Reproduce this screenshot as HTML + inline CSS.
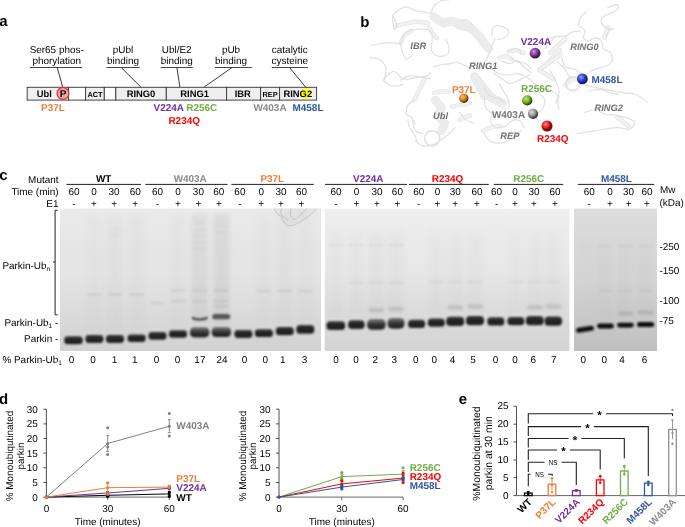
<!DOCTYPE html>
<html><head><meta charset="utf-8"><style>
html,body{margin:0;padding:0;background:#fff;}
svg{display:block;font-family:"Liberation Sans",sans-serif;text-rendering:geometricPrecision;-webkit-font-smoothing:antialiased;will-change:transform;}
</style></head><body>
<svg width="685" height="527" viewBox="0 0 685 527">
<rect width="685" height="527" fill="#fff"/>
<text x="-0.7" y="26.2" font-size="15" font-weight="bold" fill="#000" text-anchor="start">a</text>
<text x="56.7" y="52.7" font-size="9.95" fill="#000" text-anchor="middle">Ser65 phos-</text>
<text x="56.7" y="63.8" font-size="9.95" fill="#000" text-anchor="middle">phorylation</text>
<line x1="30.0" y1="67.5" x2="82.0" y2="67.5" stroke="#333" stroke-width="0.9"/>
<line x1="57.2" y1="67.5" x2="62.7" y2="87.0" stroke="#222" stroke-width="0.9"/>
<text x="123.0" y="52.7" font-size="9.95" fill="#000" text-anchor="middle">pUbl</text>
<text x="123.0" y="63.8" font-size="9.95" fill="#000" text-anchor="middle">binding</text>
<line x1="106.4" y1="67.5" x2="139.6" y2="67.5" stroke="#333" stroke-width="0.9"/>
<line x1="121.2" y1="67.5" x2="140.8" y2="87.0" stroke="#222" stroke-width="0.9"/>
<text x="176.7" y="52.7" font-size="9.95" fill="#000" text-anchor="middle">Ubl/E2</text>
<text x="176.7" y="63.8" font-size="9.95" fill="#000" text-anchor="middle">binding</text>
<line x1="160.7" y1="67.5" x2="192.8" y2="67.5" stroke="#333" stroke-width="0.9"/>
<line x1="176.9" y1="67.5" x2="179.9" y2="87.0" stroke="#222" stroke-width="0.9"/>
<text x="231.0" y="52.7" font-size="9.95" fill="#000" text-anchor="middle">pUb</text>
<text x="231.0" y="63.8" font-size="9.95" fill="#000" text-anchor="middle">binding</text>
<line x1="215.0" y1="67.5" x2="251.8" y2="67.5" stroke="#333" stroke-width="0.9"/>
<line x1="232.0" y1="67.5" x2="204.2" y2="87.0" stroke="#222" stroke-width="0.9"/>
<text x="289.8" y="52.7" font-size="9.95" fill="#000" text-anchor="middle">catalytic</text>
<text x="289.8" y="63.8" font-size="9.95" fill="#000" text-anchor="middle">cysteine</text>
<line x1="271.7" y1="67.5" x2="308.0" y2="67.5" stroke="#333" stroke-width="0.9"/>
<line x1="289.5" y1="67.5" x2="306.4" y2="88.0" stroke="#222" stroke-width="0.9"/>
<rect x="27.2" y="87.3" width="41.3" height="12.8" fill="#efefef" stroke="#3c3c3c" stroke-width="0.95"/>
<rect x="68.5" y="87.3" width="17.1" height="12.8" fill="#fff" stroke="#3c3c3c" stroke-width="0.95"/>
<rect x="85.6" y="87.3" width="18.7" height="12.8" fill="#efefef" stroke="#3c3c3c" stroke-width="0.95"/>
<rect x="104.3" y="87.3" width="11.5" height="12.8" fill="#fff" stroke="#3c3c3c" stroke-width="0.95"/>
<rect x="115.8" y="87.3" width="50.5" height="12.8" fill="#efefef" stroke="#3c3c3c" stroke-width="0.95"/>
<rect x="166.3" y="87.3" width="60.3" height="12.8" fill="#efefef" stroke="#3c3c3c" stroke-width="0.95"/>
<rect x="226.6" y="87.3" width="34.0" height="12.8" fill="#efefef" stroke="#3c3c3c" stroke-width="0.95"/>
<rect x="260.6" y="87.3" width="19.0" height="12.8" fill="#efefef" stroke="#3c3c3c" stroke-width="0.95"/>
<rect x="279.6" y="87.3" width="37.0" height="12.8" fill="#efefef" stroke="#3c3c3c" stroke-width="0.95"/>
<circle cx="63.0" cy="93.4" r="5.9" fill="#F6A5A5" stroke="#E02828" stroke-width="1.2"/>
<circle cx="306.1" cy="93.4" r="5.4" fill="#FFFF00"/>
<text x="44.2" y="97.2" font-size="9.4" font-weight="bold" fill="#000" text-anchor="middle">Ubl</text>
<text x="63.0" y="97.2" font-size="10" font-weight="bold" fill="#000" text-anchor="middle">P</text>
<text x="95.0" y="96.8" font-size="7.4" font-weight="bold" fill="#000" text-anchor="middle">ACT</text>
<text x="141.0" y="97.2" font-size="9.4" font-weight="bold" fill="#000" text-anchor="middle">RING0</text>
<text x="194.6" y="97.2" font-size="9.4" font-weight="bold" fill="#000" text-anchor="middle">RING1</text>
<text x="242.8" y="97.2" font-size="9.4" font-weight="bold" fill="#000" text-anchor="middle">IBR</text>
<text x="270.0" y="96.8" font-size="7.4" font-weight="bold" fill="#000" text-anchor="middle">REP</text>
<text x="297.8" y="97.2" font-size="9.4" font-weight="bold" fill="#000" text-anchor="middle">RING2</text>
<text x="53.0" y="110.8" font-size="9.95" font-weight="bold" fill="#ED7D31" text-anchor="middle">P37L</text>
<text x="168.8" y="110.8" font-size="9.95" font-weight="bold" fill="#7030A0" text-anchor="middle">V224A</text>
<text x="201.7" y="110.8" font-size="9.95" font-weight="bold" fill="#70AD47" text-anchor="middle">R256C</text>
<text x="184.2" y="123.6" font-size="9.95" font-weight="bold" fill="#FF0000" text-anchor="middle">R234Q</text>
<text x="270.0" y="110.8" font-size="9.95" font-weight="bold" fill="#8A8A8A" text-anchor="middle">W403A</text>
<text x="308.0" y="110.8" font-size="9.95" font-weight="bold" fill="#2F55A0" text-anchor="middle">M458L</text>
<text x="360.2" y="27.2" font-size="15" font-weight="bold" fill="#000" text-anchor="start">b</text>
<g fill="none" stroke-linecap="round" stroke-linejoin="round">
<path d="M396.6 25.8 C399.5 25.2 408.8 22.5 414.0 22.0 C419.2 21.5 425.4 22.6 427.7 22.8" stroke="#e4e4e4" stroke-width="4.4"/>
<path d="M396.6 25.8 C399.5 25.2 408.8 22.5 414.0 22.0 C419.2 21.5 425.4 22.6 427.7 22.8" stroke="#f1f1f1" stroke-width="3"/>
<path d="M401.1 42.5 C401.7 41.2 403.3 36.8 404.9 34.9 C406.5 33.0 410.0 31.7 411.0 31.1" stroke="#e4e4e4" stroke-width="4.4"/>
<path d="M401.1 42.5 C401.7 41.2 403.3 36.8 404.9 34.9 C406.5 33.0 410.0 31.7 411.0 31.1" stroke="#f1f1f1" stroke-width="3"/>
<path d="M429.2 27.3 C429.9 28.6 432.5 33.1 433.7 34.9 C435.0 36.7 436.3 37.4 436.8 37.9" stroke="#e4e4e4" stroke-width="4.4"/>
<path d="M429.2 27.3 C429.9 28.6 432.5 33.1 433.7 34.9 C435.0 36.7 436.3 37.4 436.8 37.9" stroke="#f1f1f1" stroke-width="3"/>
<path d="M540.4 69.8 C542.2 68.0 547.8 62.5 551.0 59.2 C554.3 55.9 558.5 51.6 560.0 50.1" stroke="#e4e4e4" stroke-width="4.4"/>
<path d="M540.4 69.8 C542.2 68.0 547.8 62.5 551.0 59.2 C554.3 55.9 558.5 51.6 560.0 50.1" stroke="#f1f1f1" stroke-width="3"/>
<path d="M508.6 51.6 C509.8 51.3 513.6 49.8 516.1 50.1 C518.7 50.3 522.5 52.6 523.7 53.1" stroke="#e4e4e4" stroke-width="4.4"/>
<path d="M508.6 51.6 C509.8 51.3 513.6 49.8 516.1 50.1 C518.7 50.3 522.5 52.6 523.7 53.1" stroke="#f1f1f1" stroke-width="3"/>
<path d="M499.5 57.7 C500.5 57.4 503.5 55.9 505.5 56.1 C507.5 56.4 510.6 58.7 511.6 59.2" stroke="#e4e4e4" stroke-width="4.4"/>
<path d="M499.5 57.7 C500.5 57.4 503.5 55.9 505.5 56.1 C507.5 56.4 510.6 58.7 511.6 59.2" stroke="#f1f1f1" stroke-width="3"/>
<path d="M550.0 53.1 C551.3 51.8 555.1 47.8 557.6 45.5 C560.1 43.2 563.9 40.5 565.2 39.5" stroke="#e4e4e4" stroke-width="4.4"/>
<path d="M550.0 53.1 C551.3 51.8 555.1 47.8 557.6 45.5 C560.1 43.2 563.9 40.5 565.2 39.5" stroke="#f1f1f1" stroke-width="3"/>
<path d="M604.6 37.9 C605.0 36.7 606.3 32.1 606.9 30.3 C607.5 28.6 608.2 27.8 608.4 27.3" stroke="#e4e4e4" stroke-width="4.4"/>
<path d="M604.6 37.9 C605.0 36.7 606.3 32.1 606.9 30.3 C607.5 28.6 608.2 27.8 608.4 27.3" stroke="#f1f1f1" stroke-width="3"/>
<path d="M414.0 100.3 C414.9 98.6 417.5 93.3 419.3 89.7 C421.1 86.2 423.7 80.9 424.6 79.1" stroke="#e4e4e4" stroke-width="4.4"/>
<path d="M414.0 100.3 C414.9 98.6 417.5 93.3 419.3 89.7 C421.1 86.2 423.7 80.9 424.6 79.1" stroke="#f1f1f1" stroke-width="3"/>
<path d="M451.9 106.4 C453.5 106.2 458.0 105.4 461.0 104.9 C464.1 104.4 468.5 103.6 470.0 103.4" stroke="#e4e4e4" stroke-width="4.4"/>
<path d="M451.9 106.4 C453.5 106.2 458.0 105.4 461.0 104.9 C464.1 104.4 468.5 103.6 470.0 103.4" stroke="#f1f1f1" stroke-width="3"/>
<path d="M459.5 120.1 C460.3 119.7 462.3 118.6 464.1 117.8 C465.8 117.0 469.0 115.9 470.0 115.5" stroke="#e4e4e4" stroke-width="4.4"/>
<path d="M459.5 120.1 C460.3 119.7 462.3 118.6 464.1 117.8 C465.8 117.0 469.0 115.9 470.0 115.5" stroke="#f1f1f1" stroke-width="3"/>
<path d="M433.7 92.8 C435.0 92.5 438.8 91.4 441.3 91.2 C443.8 91.1 447.6 91.9 448.9 92.0" stroke="#e4e4e4" stroke-width="4.4"/>
<path d="M433.7 92.8 C435.0 92.5 438.8 91.4 441.3 91.2 C443.8 91.1 447.6 91.9 448.9 92.0" stroke="#f1f1f1" stroke-width="3"/>
<path d="M540.1 69.2 C541.8 68.0 546.9 64.3 550.3 61.9 C553.7 59.5 558.8 55.8 560.5 54.6" stroke="#e4e4e4" stroke-width="4.4"/>
<path d="M540.1 69.2 C541.8 68.0 546.9 64.3 550.3 61.9 C553.7 59.5 558.8 55.8 560.5 54.6" stroke="#f1f1f1" stroke-width="3"/>
<path d="M538.9 70.0 C540.2 70.8 544.0 73.0 546.5 74.6 C549.0 76.1 552.8 78.3 554.1 79.1" stroke="#e4e4e4" stroke-width="4.4"/>
<path d="M538.9 70.0 C540.2 70.8 544.0 73.0 546.5 74.6 C549.0 76.1 552.8 78.3 554.1 79.1" stroke="#f1f1f1" stroke-width="3"/>
<path d="M482.8 130.7 C484.0 130.2 487.6 128.4 490.3 127.7 C493.1 126.9 497.9 126.4 499.5 126.1" stroke="#e4e4e4" stroke-width="4.4"/>
<path d="M482.8 130.7 C484.0 130.2 487.6 128.4 490.3 127.7 C493.1 126.9 497.9 126.4 499.5 126.1" stroke="#f1f1f1" stroke-width="3"/>
<path d="M616.8 117.0 C617.8 117.8 620.8 120.1 622.8 121.6 C624.9 123.1 627.9 125.4 628.9 126.1" stroke="#e4e4e4" stroke-width="4.4"/>
<path d="M616.8 117.0 C617.8 117.8 620.8 120.1 622.8 121.6 C624.9 123.1 627.9 125.4 628.9 126.1" stroke="#f1f1f1" stroke-width="3"/>
<path d="M565.2 85.2 C565.9 84.4 568.0 81.6 569.7 80.6 C571.5 79.6 574.8 79.4 575.8 79.1" stroke="#e4e4e4" stroke-width="4.4"/>
<path d="M565.2 85.2 C565.9 84.4 568.0 81.6 569.7 80.6 C571.5 79.6 574.8 79.4 575.8 79.1" stroke="#f1f1f1" stroke-width="3"/>
<path d="M433.7 16.7 C435.3 17.7 439.8 22.0 442.8 22.8 C445.9 23.5 448.9 20.7 451.9 21.2 C455.0 21.8 458.0 24.8 461.0 25.8 C464.1 26.8 468.5 27.1 470.0 27.3" stroke="#e3e3e3" stroke-width="8.5"/>
<path d="M433.7 16.7 C435.3 17.7 439.8 22.0 442.8 22.8 C445.9 23.5 448.9 20.7 451.9 21.2 C455.0 21.8 458.0 24.8 461.0 25.8 C464.1 26.8 468.5 27.1 470.0 27.3" stroke="#fafafa" stroke-width="6.8"/>
<path d="M433.7 16.7 C435.3 17.7 439.8 22.0 442.8 22.8 C445.9 23.5 448.9 20.7 451.9 21.2 C455.0 21.8 458.0 24.8 461.0 25.8 C464.1 26.8 468.5 27.1 470.0 27.3" stroke="#ececec" stroke-width="6.8" stroke-dasharray="2.2 2.6"/>
<path d="M460.0 22.8 C461.5 23.5 466.3 25.5 469.1 27.3 C471.9 29.1 474.4 31.1 476.7 33.4 C479.0 35.7 480.7 38.4 482.8 41.0 C484.8 43.5 487.8 47.3 488.8 48.6" stroke="#e3e3e3" stroke-width="8.5"/>
<path d="M460.0 22.8 C461.5 23.5 466.3 25.5 469.1 27.3 C471.9 29.1 474.4 31.1 476.7 33.4 C479.0 35.7 480.7 38.4 482.8 41.0 C484.8 43.5 487.8 47.3 488.8 48.6" stroke="#fafafa" stroke-width="6.8"/>
<path d="M460.0 22.8 C461.5 23.5 466.3 25.5 469.1 27.3 C471.9 29.1 474.4 31.1 476.7 33.4 C479.0 35.7 480.7 38.4 482.8 41.0 C484.8 43.5 487.8 47.3 488.8 48.6" stroke="#ececec" stroke-width="6.8" stroke-dasharray="2.2 2.6"/>
<path d="M435.3 100.3 C436.3 101.6 440.8 105.4 441.3 107.9 C441.8 110.5 437.8 113.0 438.3 115.5 C438.8 118.1 443.8 120.6 444.4 123.1 C444.9 125.6 441.8 129.4 441.3 130.7" stroke="#e3e3e3" stroke-width="8.5"/>
<path d="M435.3 100.3 C436.3 101.6 440.8 105.4 441.3 107.9 C441.8 110.5 437.8 113.0 438.3 115.5 C438.8 118.1 443.8 120.6 444.4 123.1 C444.9 125.6 441.8 129.4 441.3 130.7" stroke="#fafafa" stroke-width="6.8"/>
<path d="M435.3 100.3 C436.3 101.6 440.8 105.4 441.3 107.9 C441.8 110.5 437.8 113.0 438.3 115.5 C438.8 118.1 443.8 120.6 444.4 123.1 C444.9 125.6 441.8 129.4 441.3 130.7" stroke="#ececec" stroke-width="6.8" stroke-dasharray="2.2 2.6"/>
<path d="M474.4 76.5 C475.4 77.7 478.3 81.4 480.2 83.8 C482.2 86.2 484.1 88.7 486.1 91.1 C488.0 93.5 490.9 97.2 491.9 98.4" stroke="#e3e3e3" stroke-width="8.5"/>
<path d="M474.4 76.5 C475.4 77.7 478.3 81.4 480.2 83.8 C482.2 86.2 484.1 88.7 486.1 91.1 C488.0 93.5 490.9 97.2 491.9 98.4" stroke="#fafafa" stroke-width="6.8"/>
<path d="M474.4 76.5 C475.4 77.7 478.3 81.4 480.2 83.8 C482.2 86.2 484.1 88.7 486.1 91.1 C488.0 93.5 490.9 97.2 491.9 98.4" stroke="#ececec" stroke-width="6.8" stroke-dasharray="2.2 2.6"/>
<path d="M475.2 77.6 C475.9 79.1 478.2 83.7 479.7 86.7 C481.2 89.7 483.5 94.3 484.3 95.8" stroke="#e3e3e3" stroke-width="8.5"/>
<path d="M475.2 77.6 C475.9 79.1 478.2 83.7 479.7 86.7 C481.2 89.7 483.5 94.3 484.3 95.8" stroke="#fafafa" stroke-width="6.8"/>
<path d="M475.2 77.6 C475.9 79.1 478.2 83.7 479.7 86.7 C481.2 89.7 483.5 94.3 484.3 95.8" stroke="#ececec" stroke-width="6.8" stroke-dasharray="2.2 2.6"/>
<path d="M488.8 95.8 C490.1 96.6 493.6 98.8 496.4 100.3 C499.2 101.9 504.0 104.1 505.5 104.9" stroke="#e3e3e3" stroke-width="8.5"/>
<path d="M488.8 95.8 C490.1 96.6 493.6 98.8 496.4 100.3 C499.2 101.9 504.0 104.1 505.5 104.9" stroke="#fafafa" stroke-width="6.8"/>
<path d="M488.8 95.8 C490.1 96.6 493.6 98.8 496.4 100.3 C499.2 101.9 504.0 104.1 505.5 104.9" stroke="#ececec" stroke-width="6.8" stroke-dasharray="2.2 2.6"/>
<path d="M370.0 45.5 C371.5 45.3 376.1 44.4 379.1 44.0 C382.1 43.6 385.2 43.1 388.2 42.9 C391.2 42.8 395.2 42.8 397.3 43.2 C399.5 43.7 400.5 45.1 401.1 45.5" stroke="#e0e0e0" stroke-width="1.2"/>
<path d="M401.1 45.5 C401.4 46.8 401.7 50.8 402.6 53.1 C403.5 55.4 404.8 58.9 406.4 59.2 C408.1 59.4 411.5 55.4 412.5 54.6" stroke="#e0e0e0" stroke-width="1.2"/>
<path d="M394.3 29.6 C394.0 27.3 391.8 19.3 392.8 15.9 C393.8 12.5 398.1 10.6 400.3 9.1 C402.6 7.6 403.9 6.6 406.4 6.8 C408.9 7.1 412.5 9.7 415.5 10.6 C418.6 11.5 422.1 11.8 424.6 12.1 C427.2 12.5 429.2 13.9 430.7 12.9 C432.2 11.9 432.0 8.1 433.7 6.1 C435.5 4.0 438.8 1.8 441.3 0.8 C443.8 -0.3 447.6 0.1 448.9 0.0" stroke="#e0e0e0" stroke-width="1.2"/>
<path d="M400.3 44.0 C401.1 42.2 402.6 35.8 404.9 33.4 C407.2 31.0 410.2 30.2 414.0 29.6 C417.8 29.0 424.6 28.5 427.7 29.6 C430.7 30.7 431.6 33.0 432.2 36.4 C432.8 39.8 430.4 46.8 431.5 50.1 C432.5 53.4 435.6 55.4 438.3 56.1 C440.9 56.9 445.6 56.1 447.4 54.6 C449.2 53.1 449.2 49.6 448.9 47.0 C448.7 44.5 446.4 40.7 445.9 39.5" stroke="#e0e0e0" stroke-width="1.2"/>
<path d="M370.0 57.7 C371.5 57.9 376.6 57.9 379.1 59.2 C381.6 60.4 384.0 63.0 385.2 65.3 C386.3 67.5 386.2 70.4 385.9 72.8 C385.7 75.3 384.0 78.8 383.7 80.0" stroke="#e0e0e0" stroke-width="1.2"/>
<path d="M433.7 66.8 C435.0 66.4 438.5 65.0 441.3 64.5 C444.1 64.0 447.9 64.1 450.4 63.7 C453.0 63.4 454.2 62.0 456.5 62.2 C458.8 62.5 461.8 64.2 464.1 65.3 C466.3 66.3 469.0 67.8 470.0 68.3" stroke="#e0e0e0" stroke-width="1.2"/>
<path d="M400.3 80.0 C401.9 79.3 406.2 76.4 409.5 75.9 C412.7 75.3 416.5 76.1 420.1 76.6 C423.6 77.1 428.9 78.5 430.7 78.9" stroke="#e0e0e0" stroke-width="1.2"/>
<path d="M392.8 15.9 C393.4 17.5 396.3 22.8 396.6 25.0 C396.8 27.3 394.7 28.8 394.3 29.6" stroke="#e0e0e0" stroke-width="1.2"/>
<path d="M491.9 34.9 C492.1 33.6 492.1 28.8 493.4 27.3 C494.6 25.8 497.2 25.5 499.5 25.8 C501.7 26.0 505.5 27.6 507.0 28.8 C508.6 30.1 509.1 31.9 508.6 33.4 C508.1 34.9 505.8 36.9 504.0 37.9 C502.2 38.9 498.9 39.2 497.9 39.5" stroke="#e0e0e0" stroke-width="1.2"/>
<path d="M494.9 37.9 C494.1 40.0 491.9 46.3 490.3 50.1 C488.8 53.9 487.6 57.4 485.8 60.7 C484.0 64.0 480.7 68.3 479.7 69.8" stroke="#e0e0e0" stroke-width="1.2"/>
<path d="M501.0 60.7 C502.5 61.2 507.3 63.7 510.1 63.7 C512.9 63.7 515.4 60.2 517.7 60.7 C519.9 61.2 521.5 64.7 523.7 66.8 C526.0 68.8 530.1 71.8 531.3 72.8" stroke="#e0e0e0" stroke-width="1.2"/>
<path d="M545.0 48.6 C546.5 46.8 551.6 40.0 554.1 37.9 C556.6 35.9 559.0 36.7 560.0 36.4" stroke="#e0e0e0" stroke-width="1.2"/>
<path d="M460.0 21.2 C461.0 21.0 464.0 19.2 466.1 19.7 C468.1 20.2 471.1 23.5 472.1 24.3" stroke="#e0e0e0" stroke-width="1.2"/>
<path d="M586.4 11.4 C585.4 12.5 581.6 15.8 580.3 18.2 C579.1 20.6 578.1 23.8 578.8 25.8 C579.6 27.8 584.1 28.3 584.9 30.3 C585.7 32.4 582.9 36.2 583.4 37.9 C583.9 39.7 587.2 40.5 587.9 41.0" stroke="#e0e0e0" stroke-width="1.2"/>
<path d="M607.7 7.6 C609.2 7.1 615.0 4.6 616.8 4.6 C618.5 4.6 618.8 6.3 618.3 7.6 C617.8 8.9 616.3 10.6 613.7 12.1 C611.2 13.7 605.1 14.9 603.1 16.7 C601.1 18.5 600.8 20.7 601.6 22.8 C602.4 24.8 605.6 27.8 607.7 28.8 C609.7 29.8 613.5 28.6 613.7 28.8 C614.0 29.1 610.4 29.1 609.2 30.3 C607.9 31.6 606.7 35.4 606.1 36.4" stroke="#e0e0e0" stroke-width="1.2"/>
<path d="M587.9 41.0 C589.2 40.5 593.2 37.9 595.5 37.9 C597.8 37.9 600.3 39.2 601.6 41.0 C602.9 42.7 601.6 46.5 603.1 48.6 C604.6 50.6 609.2 51.1 610.7 53.1 C612.2 55.1 612.7 58.7 612.2 60.7 C611.7 62.7 609.9 64.0 607.7 65.3 C605.4 66.5 601.6 67.3 598.6 68.3 C595.5 69.3 591.0 70.8 589.5 71.3" stroke="#e0e0e0" stroke-width="1.2"/>
<path d="M565.2 36.4 C566.4 35.7 570.2 32.8 572.8 31.9 C575.3 31.0 579.1 31.2 580.3 31.1" stroke="#e0e0e0" stroke-width="1.2"/>
<path d="M562.1 57.7 C562.6 59.2 562.9 64.7 565.2 66.8 C567.5 68.8 572.8 68.3 575.8 69.8 C578.8 71.3 582.1 74.9 583.4 75.9" stroke="#e0e0e0" stroke-width="1.2"/>
<path d="M550.0 37.9 C551.3 37.7 555.1 36.7 557.6 36.4 C560.1 36.2 563.9 36.4 565.2 36.4" stroke="#e0e0e0" stroke-width="1.2"/>
<path d="M383.7 80.6 C384.2 79.9 384.9 77.6 386.7 76.1 C388.5 74.6 391.5 71.0 394.3 71.5 C397.1 72.0 399.8 78.1 403.4 79.1 C406.9 80.1 411.7 78.1 415.5 77.6 C419.3 77.1 423.6 76.8 426.1 76.1 C428.7 75.3 429.9 73.5 430.7 73.0" stroke="#e0e0e0" stroke-width="1.2"/>
<path d="M383.7 80.6 C384.7 81.4 387.5 84.3 389.7 85.2 C392.0 86.1 395.0 86.1 397.3 85.9 C399.6 85.8 402.4 84.7 403.4 84.4" stroke="#e0e0e0" stroke-width="1.2"/>
<path d="M414.0 100.3 C413.0 101.1 409.2 102.6 407.9 104.9 C406.7 107.2 405.9 112.0 406.4 114.0 C406.9 116.0 409.5 115.3 411.0 117.0 C412.5 118.8 414.8 123.4 415.5 124.6" stroke="#e0e0e0" stroke-width="1.2"/>
<path d="M412.5 120.1 C413.0 121.8 413.8 128.4 415.5 130.7 C417.3 133.0 421.8 133.2 423.1 133.7" stroke="#e0e0e0" stroke-width="1.2"/>
<path d="M415.5 141.3 C416.8 142.1 420.1 145.4 423.1 145.9 C426.1 146.4 430.7 145.4 433.7 144.4 C436.8 143.3 438.8 141.6 441.3 139.8 C443.8 138.0 446.6 135.8 448.9 133.7 C451.2 131.7 454.0 128.7 455.0 127.7" stroke="#e0e0e0" stroke-width="1.2"/>
<path d="M407.9 120.1 C408.2 121.3 408.4 125.4 409.5 127.7 C410.5 129.9 412.7 131.5 414.0 133.7 C415.3 136.0 416.5 140.1 417.0 141.3" stroke="#e0e0e0" stroke-width="1.2"/>
<path d="M508.0 51.7 C508.9 51.2 511.8 49.0 513.8 48.8 C515.7 48.5 518.4 49.2 519.6 50.2 C520.9 51.2 520.9 53.9 521.1 54.6" stroke="#e0e0e0" stroke-width="1.2"/>
<path d="M491.9 69.2 C493.1 69.9 496.5 72.6 499.2 73.6 C501.9 74.5 504.8 75.0 508.0 75.0 C511.1 75.0 515.3 73.3 518.2 73.6 C521.1 73.8 523.3 75.3 525.5 76.5 C527.7 77.7 529.9 79.7 531.3 80.9 C532.8 82.1 533.7 83.3 534.2 83.8" stroke="#e0e0e0" stroke-width="1.2"/>
<path d="M499.2 83.8 C499.9 85.0 502.1 88.7 503.6 91.1 C505.0 93.5 507.0 96.0 508.0 98.4 C508.9 100.8 509.2 104.5 509.4 105.7" stroke="#e0e0e0" stroke-width="1.2"/>
<path d="M534.2 83.8 C535.7 84.5 540.1 87.0 543.0 88.2 C545.9 89.4 549.3 89.9 551.8 91.1 C554.2 92.3 556.9 93.5 557.6 95.5 C558.3 97.4 556.4 101.6 556.1 102.8" stroke="#e0e0e0" stroke-width="1.2"/>
<path d="M557.6 61.9 C558.8 63.1 562.8 66.5 564.9 69.2 C567.0 71.9 569.1 76.5 570.0 78.0" stroke="#e0e0e0" stroke-width="1.2"/>
<path d="M484.6 88.2 C485.3 89.4 486.5 93.8 489.0 95.5 C491.4 97.2 496.5 97.2 499.2 98.4 C501.9 99.6 504.1 102.0 505.0 102.8" stroke="#e0e0e0" stroke-width="1.2"/>
<path d="M510.9 57.5 C511.8 58.2 514.3 60.9 516.7 61.9 C519.1 62.9 523.0 62.1 525.5 63.4 C527.9 64.6 530.3 68.2 531.3 69.2" stroke="#e0e0e0" stroke-width="1.2"/>
<path d="M484.3 97.3 C484.5 99.1 484.5 105.2 485.8 107.9 C487.1 110.7 491.1 111.7 491.9 114.0 C492.6 116.3 489.6 119.3 490.3 121.6 C491.1 123.9 493.9 126.9 496.4 127.7 C498.9 128.4 504.0 126.4 505.5 126.1" stroke="#e0e0e0" stroke-width="1.2"/>
<path d="M493.4 73.0 C494.9 74.0 499.7 77.3 502.5 79.1 C505.3 80.9 507.0 83.7 510.1 83.7 C513.1 83.7 517.4 80.6 520.7 79.1 C524.0 77.6 528.3 75.3 529.8 74.6" stroke="#e0e0e0" stroke-width="1.2"/>
<path d="M538.9 92.8 C539.9 94.0 544.5 97.6 545.0 100.3 C545.5 103.1 543.5 106.9 541.9 109.5 C540.4 112.0 536.4 113.5 535.9 115.5 C535.4 117.5 538.4 120.6 538.9 121.6" stroke="#e0e0e0" stroke-width="1.2"/>
<path d="M484.3 133.7 C485.3 135.0 487.3 139.8 490.3 141.3 C493.4 142.8 498.4 143.6 502.5 142.8 C506.5 142.1 511.6 138.8 514.6 136.8 C517.7 134.7 519.7 131.7 520.7 130.7" stroke="#e0e0e0" stroke-width="1.2"/>
<path d="M460.0 112.5 C461.0 113.8 463.8 118.3 466.1 120.1 C468.3 121.8 472.4 122.6 473.7 123.1" stroke="#e0e0e0" stroke-width="1.2"/>
<path d="M505.5 126.1 C506.8 125.1 510.6 120.8 513.1 120.1 C515.6 119.3 518.9 120.3 520.7 121.6 C522.5 122.9 523.2 126.7 523.7 127.7" stroke="#e0e0e0" stroke-width="1.2"/>
<path d="M584.9 85.2 C589.7 86.2 605.4 89.7 613.7 91.2 C622.1 92.8 629.4 92.5 635.0 94.3 C640.5 96.0 645.1 100.6 647.1 101.9" stroke="#e0e0e0" stroke-width="1.2"/>
<path d="M587.9 91.2 C590.0 91.0 596.3 89.5 600.1 89.7 C603.9 90.0 607.7 92.0 610.7 92.8 C613.7 93.5 617.0 94.0 618.3 94.3" stroke="#e0e0e0" stroke-width="1.2"/>
<path d="M584.9 112.5 C586.7 112.0 592.2 109.2 595.5 109.5 C598.8 109.7 601.1 113.0 604.6 114.0 C608.2 115.0 612.7 114.8 616.8 115.5 C620.8 116.3 625.9 117.3 628.9 118.6 C631.9 119.8 635.0 121.3 635.0 123.1 C635.0 124.9 631.9 128.4 628.9 129.2 C625.9 129.9 622.3 127.4 616.8 127.7 C611.2 127.9 602.1 129.7 595.5 130.7 C588.9 131.7 580.3 133.2 577.3 133.7" stroke="#e0e0e0" stroke-width="1.2"/>
<path d="M550.0 70.0 C551.0 72.0 554.6 78.6 556.1 82.1 C557.6 85.7 558.9 87.5 559.1 91.2 C559.4 95.0 557.6 101.9 557.6 104.9 C557.6 107.9 558.9 108.7 559.1 109.5" stroke="#e0e0e0" stroke-width="1.2"/>
<circle cx="432.2" cy="138.3" r="7.6" stroke="#e0e0e0" stroke-width="1.5"/>
<circle cx="572.8" cy="83.7" r="7.0" stroke="#e0e0e0" stroke-width="1.5"/>
</g>
<text x="410.3" y="48.8" font-size="9.3" font-weight="bold" font-style="italic" fill="#727272" text-anchor="start">IBR</text>
<text x="469.0" y="69.2" font-size="9.3" font-weight="bold" font-style="italic" fill="#727272" text-anchor="start">RING1</text>
<text x="570.3" y="50.0" font-size="9.3" font-weight="bold" font-style="italic" fill="#727272" text-anchor="start">RING0</text>
<text x="433.0" y="118.7" font-size="9.3" font-weight="bold" font-style="italic" fill="#727272" text-anchor="start">Ubl</text>
<text x="500.3" y="139.1" font-size="9.3" font-weight="bold" font-style="italic" fill="#727272" text-anchor="start">REP</text>
<text x="594.5" y="110.5" font-size="9.3" font-weight="bold" font-style="italic" fill="#727272" text-anchor="start">RING2</text>
<radialGradient id="g7A2A8E" cx="0.38" cy="0.35" r="0.7"><stop offset="0" stop-color="#C79ADB"/><stop offset="0.55" stop-color="#7A2A8E"/><stop offset="1" stop-color="#000" stop-opacity="0.9"/></radialGradient>
<circle cx="535.1" cy="53.2" r="5.4" fill="url(#g7A2A8E)"/>
<radialGradient id="g2233CC" cx="0.38" cy="0.35" r="0.7"><stop offset="0" stop-color="#8FA0FF"/><stop offset="0.55" stop-color="#2233CC"/><stop offset="1" stop-color="#000" stop-opacity="0.9"/></radialGradient>
<circle cx="582.4" cy="78.9" r="5.4" fill="url(#g2233CC)"/>
<radialGradient id="gD9730F" cx="0.38" cy="0.35" r="0.7"><stop offset="0" stop-color="#F7C28A"/><stop offset="0.55" stop-color="#D9730F"/><stop offset="1" stop-color="#000" stop-opacity="0.9"/></radialGradient>
<circle cx="463.8" cy="98.3" r="4.7" fill="url(#gD9730F)"/>
<radialGradient id="g6AAA10" cx="0.38" cy="0.35" r="0.7"><stop offset="0" stop-color="#C3E58A"/><stop offset="0.55" stop-color="#6AAA10"/><stop offset="1" stop-color="#000" stop-opacity="0.9"/></radialGradient>
<circle cx="527.2" cy="100.4" r="5.1" fill="url(#g6AAA10)"/>
<radialGradient id="g8C8C8C" cx="0.38" cy="0.35" r="0.7"><stop offset="0" stop-color="#E0E0E0"/><stop offset="0.55" stop-color="#8C8C8C"/><stop offset="1" stop-color="#000" stop-opacity="0.9"/></radialGradient>
<circle cx="533.0" cy="113.8" r="5.1" fill="url(#g8C8C8C)"/>
<radialGradient id="gE00000" cx="0.38" cy="0.35" r="0.7"><stop offset="0" stop-color="#FF9090"/><stop offset="0.55" stop-color="#E00000"/><stop offset="1" stop-color="#000" stop-opacity="0.9"/></radialGradient>
<circle cx="547.0" cy="126.0" r="5.5" fill="url(#gE00000)"/>
<text x="535.9" y="44.9" font-size="9.95" font-weight="bold" fill="#7030A0" text-anchor="middle">V224A</text>
<text x="607.0" y="82.5" font-size="9.95" font-weight="bold" fill="#2F55A0" text-anchor="middle">M458L</text>
<text x="463.8" y="92.5" font-size="9.95" font-weight="bold" fill="#ED7D31" text-anchor="middle">P37L</text>
<text x="536.5" y="91.9" font-size="9.95" font-weight="bold" fill="#70AD47" text-anchor="middle">R256C</text>
<text x="508.5" y="118.2" font-size="9.95" font-weight="bold" fill="#777" text-anchor="middle">W403A</text>
<text x="552.8" y="142.4" font-size="9.95" font-weight="bold" fill="#FF0000" text-anchor="middle">R234Q</text>
<text x="-0.8" y="179.6" font-size="15" font-weight="bold" fill="#000" text-anchor="start">c</text>
<text x="58.5" y="183.3" font-size="9.95" fill="#000" text-anchor="end">Mutant</text>
<text x="58.5" y="195.0" font-size="9.95" fill="#000" text-anchor="end">Time (min)</text>
<text x="58.5" y="206.7" font-size="9.95" fill="#000" text-anchor="end">E1</text>
<text x="103.7" y="181.6" font-size="9.95" font-weight="bold" fill="#000" text-anchor="middle">WT</text>
<line x1="66.5" y1="184.4" x2="141.0" y2="184.4" stroke="#222" stroke-width="1"/>
<text x="190.2" y="181.6" font-size="9.95" font-weight="bold" fill="#8A8A8A" text-anchor="middle">W403A</text>
<line x1="145.3" y1="184.4" x2="227.6" y2="184.4" stroke="#222" stroke-width="1"/>
<text x="272.3" y="181.6" font-size="9.95" font-weight="bold" fill="#ED7D31" text-anchor="middle">P37L</text>
<line x1="231.4" y1="184.4" x2="313.7" y2="184.4" stroke="#222" stroke-width="1"/>
<text x="368.2" y="181.6" font-size="9.95" font-weight="bold" fill="#7030A0" text-anchor="middle">V224A</text>
<line x1="325.0" y1="184.4" x2="407.0" y2="184.4" stroke="#222" stroke-width="1"/>
<text x="447.6" y="181.6" font-size="9.95" font-weight="bold" fill="#FF0000" text-anchor="middle">R234Q</text>
<line x1="409.0" y1="184.4" x2="488.8" y2="184.4" stroke="#222" stroke-width="1"/>
<text x="528.8" y="181.6" font-size="9.95" font-weight="bold" fill="#70AD47" text-anchor="middle">R256C</text>
<line x1="493.8" y1="184.4" x2="563.2" y2="184.4" stroke="#222" stroke-width="1"/>
<text x="616.4" y="181.6" font-size="9.95" font-weight="bold" fill="#2F55A0" text-anchor="middle">M458L</text>
<line x1="577.8" y1="184.4" x2="654.3" y2="184.4" stroke="#222" stroke-width="1"/>
<text x="74.0" y="195.0" font-size="9.95" fill="#000" text-anchor="middle">60</text>
<text x="74.0" y="206.5" font-size="9.95" fill="#000" text-anchor="middle">-</text>
<text x="94.0" y="195.0" font-size="9.95" fill="#000" text-anchor="middle">0</text>
<text x="94.0" y="206.5" font-size="9.95" fill="#000" text-anchor="middle">+</text>
<text x="114.1" y="195.0" font-size="9.95" fill="#000" text-anchor="middle">30</text>
<text x="114.1" y="206.5" font-size="9.95" fill="#000" text-anchor="middle">+</text>
<text x="135.2" y="195.0" font-size="9.95" fill="#000" text-anchor="middle">60</text>
<text x="135.2" y="206.5" font-size="9.95" fill="#000" text-anchor="middle">+</text>
<text x="157.5" y="195.0" font-size="9.95" fill="#000" text-anchor="middle">60</text>
<text x="157.5" y="206.5" font-size="9.95" fill="#000" text-anchor="middle">-</text>
<text x="178.0" y="195.0" font-size="9.95" fill="#000" text-anchor="middle">0</text>
<text x="178.0" y="206.5" font-size="9.95" fill="#000" text-anchor="middle">+</text>
<text x="198.4" y="195.0" font-size="9.95" fill="#000" text-anchor="middle">30</text>
<text x="198.4" y="206.5" font-size="9.95" fill="#000" text-anchor="middle">+</text>
<text x="218.8" y="195.0" font-size="9.95" fill="#000" text-anchor="middle">60</text>
<text x="218.8" y="206.5" font-size="9.95" fill="#000" text-anchor="middle">+</text>
<text x="239.9" y="195.0" font-size="9.95" fill="#000" text-anchor="middle">60</text>
<text x="239.9" y="206.5" font-size="9.95" fill="#000" text-anchor="middle">-</text>
<text x="261.2" y="195.0" font-size="9.95" fill="#000" text-anchor="middle">0</text>
<text x="261.2" y="206.5" font-size="9.95" fill="#000" text-anchor="middle">+</text>
<text x="281.0" y="195.0" font-size="9.95" fill="#000" text-anchor="middle">30</text>
<text x="281.0" y="206.5" font-size="9.95" fill="#000" text-anchor="middle">+</text>
<text x="301.5" y="195.0" font-size="9.95" fill="#000" text-anchor="middle">60</text>
<text x="301.5" y="206.5" font-size="9.95" fill="#000" text-anchor="middle">+</text>
<text x="336.0" y="195.0" font-size="9.95" fill="#000" text-anchor="middle">60</text>
<text x="336.0" y="206.5" font-size="9.95" fill="#000" text-anchor="middle">-</text>
<text x="356.5" y="195.0" font-size="9.95" fill="#000" text-anchor="middle">0</text>
<text x="356.5" y="206.5" font-size="9.95" fill="#000" text-anchor="middle">+</text>
<text x="377.0" y="195.0" font-size="9.95" fill="#000" text-anchor="middle">30</text>
<text x="377.0" y="206.5" font-size="9.95" fill="#000" text-anchor="middle">+</text>
<text x="397.4" y="195.0" font-size="9.95" fill="#000" text-anchor="middle">60</text>
<text x="397.4" y="206.5" font-size="9.95" fill="#000" text-anchor="middle">+</text>
<text x="418.7" y="195.0" font-size="9.95" fill="#000" text-anchor="middle">60</text>
<text x="418.7" y="206.5" font-size="9.95" fill="#000" text-anchor="middle">-</text>
<text x="437.4" y="195.0" font-size="9.95" fill="#000" text-anchor="middle">0</text>
<text x="437.4" y="206.5" font-size="9.95" fill="#000" text-anchor="middle">+</text>
<text x="455.2" y="195.0" font-size="9.95" fill="#000" text-anchor="middle">30</text>
<text x="455.2" y="206.5" font-size="9.95" fill="#000" text-anchor="middle">+</text>
<text x="477.0" y="195.0" font-size="9.95" fill="#000" text-anchor="middle">60</text>
<text x="477.0" y="206.5" font-size="9.95" fill="#000" text-anchor="middle">+</text>
<text x="496.6" y="195.0" font-size="9.95" fill="#000" text-anchor="middle">60</text>
<text x="496.6" y="206.5" font-size="9.95" fill="#000" text-anchor="middle">-</text>
<text x="515.0" y="195.0" font-size="9.95" fill="#000" text-anchor="middle">0</text>
<text x="515.0" y="206.5" font-size="9.95" fill="#000" text-anchor="middle">+</text>
<text x="534.0" y="195.0" font-size="9.95" fill="#000" text-anchor="middle">30</text>
<text x="534.0" y="206.5" font-size="9.95" fill="#000" text-anchor="middle">+</text>
<text x="555.0" y="195.0" font-size="9.95" fill="#000" text-anchor="middle">60</text>
<text x="555.0" y="206.5" font-size="9.95" fill="#000" text-anchor="middle">+</text>
<text x="589.2" y="195.0" font-size="9.95" fill="#000" text-anchor="middle">60</text>
<text x="589.2" y="206.5" font-size="9.95" fill="#000" text-anchor="middle">-</text>
<text x="610.0" y="195.0" font-size="9.95" fill="#000" text-anchor="middle">0</text>
<text x="610.0" y="206.5" font-size="9.95" fill="#000" text-anchor="middle">+</text>
<text x="628.6" y="195.0" font-size="9.95" fill="#000" text-anchor="middle">30</text>
<text x="628.6" y="206.5" font-size="9.95" fill="#000" text-anchor="middle">+</text>
<text x="647.0" y="195.0" font-size="9.95" fill="#000" text-anchor="middle">60</text>
<text x="647.0" y="206.5" font-size="9.95" fill="#000" text-anchor="middle">+</text>
<text x="660.0" y="193.3" font-size="9.95" fill="#000" text-anchor="start">Mw</text>
<text x="659.5" y="205.8" font-size="9.95" fill="#000" text-anchor="start">(kDa)</text>
<defs>
<linearGradient id="gel1" x1="0" y1="0" x2="0" y2="1"><stop offset="0" stop-color="#eaeaea"/><stop offset="0.26" stop-color="#e6e6e6"/><stop offset="0.47" stop-color="#e4e4e4"/><stop offset="0.68" stop-color="#dddddd"/><stop offset="1" stop-color="#d1d1d1"/></linearGradient>
<linearGradient id="gel2" x1="0" y1="0" x2="0" y2="1"><stop offset="0" stop-color="#efefef"/><stop offset="0.26" stop-color="#eaeaea"/><stop offset="0.47" stop-color="#e6e6e6"/><stop offset="0.68" stop-color="#dddddd"/><stop offset="1" stop-color="#d4d4d4"/></linearGradient>
<linearGradient id="gel3" x1="0" y1="0" x2="0" y2="1"><stop offset="0" stop-color="#dddddd"/><stop offset="0.5" stop-color="#d4d4d4"/><stop offset="0.85" stop-color="#c6c6c6"/><stop offset="1" stop-color="#bebebe"/></linearGradient>
<filter id="bl1" x="-30%" y="-80%" width="160%" height="260%"><feGaussianBlur stdDeviation="0.9"/></filter>
<filter id="bl2" x="-30%" y="-80%" width="160%" height="260%"><feGaussianBlur stdDeviation="1.6"/></filter>
<filter id="bl3" x="-50%" y="-50%" width="200%" height="200%"><feGaussianBlur stdDeviation="2.5"/></filter>
</defs>
<rect x="60.0" y="208.6" width="261.0" height="142.4" fill="url(#gel1)" stroke="none" stroke-width="1"/>
<rect x="324.7" y="208.6" width="244.8" height="142.4" fill="url(#gel2)" stroke="none" stroke-width="1"/>
<rect x="574.0" y="208.6" width="83.0" height="142.4" fill="url(#gel3)" stroke="none" stroke-width="1"/>
<rect x="86.4" y="214.0" width="16.0" height="116.7" fill="#888" opacity="0.03" filter="url(#bl3)"/>
<rect x="107.0" y="214.0" width="16.0" height="116.7" fill="#888" opacity="0.05" filter="url(#bl3)"/>
<rect x="128.6" y="214.0" width="16.0" height="116.0" fill="#888" opacity="0.04" filter="url(#bl3)"/>
<rect x="170.0" y="214.0" width="16.0" height="112.0" fill="#888" opacity="0.03" filter="url(#bl3)"/>
<rect x="191.7" y="214.0" width="16.0" height="110.4" fill="#888" opacity="0.12" filter="url(#bl3)"/>
<rect x="213.3" y="214.0" width="16.0" height="110.0" fill="#888" opacity="0.14" filter="url(#bl3)"/>
<rect x="255.9" y="214.0" width="16.0" height="111.2" fill="#888" opacity="0.03" filter="url(#bl3)"/>
<rect x="276.8" y="214.0" width="16.0" height="108.9" fill="#888" opacity="0.05" filter="url(#bl3)"/>
<rect x="297.3" y="214.0" width="16.0" height="107.3" fill="#888" opacity="0.04" filter="url(#bl3)"/>
<rect x="327.8" y="230.0" width="16.0" height="87.3" fill="#888" opacity="0.03" filter="url(#bl3)"/>
<rect x="348.3" y="230.0" width="16.0" height="86.6" fill="#888" opacity="0.03" filter="url(#bl3)"/>
<rect x="368.4" y="230.0" width="16.0" height="86.6" fill="#888" opacity="0.05" filter="url(#bl3)"/>
<rect x="388.0" y="230.0" width="16.0" height="85.8" fill="#888" opacity="0.05" filter="url(#bl3)"/>
<rect x="428.3" y="230.0" width="16.0" height="84.6" fill="#888" opacity="0.03" filter="url(#bl3)"/>
<rect x="447.2" y="230.0" width="16.0" height="83.4" fill="#888" opacity="0.04" filter="url(#bl3)"/>
<rect x="467.0" y="230.0" width="16.0" height="82.6" fill="#888" opacity="0.04" filter="url(#bl3)"/>
<rect x="507.9" y="230.0" width="16.0" height="83.0" fill="#888" opacity="0.02" filter="url(#bl3)"/>
<rect x="526.8" y="230.0" width="16.0" height="82.6" fill="#888" opacity="0.04" filter="url(#bl3)"/>
<rect x="545.3" y="230.0" width="16.0" height="83.0" fill="#888" opacity="0.04" filter="url(#bl3)"/>
<rect x="577.5" y="240.0" width="15.0" height="81.4" fill="#888" opacity="0.02" filter="url(#bl3)"/>
<rect x="597.5" y="240.0" width="15.0" height="78.5" fill="#888" opacity="0.04" filter="url(#bl3)"/>
<rect x="617.8" y="240.0" width="15.0" height="77.0" fill="#888" opacity="0.04" filter="url(#bl3)"/>
<rect x="637.8" y="240.0" width="15.0" height="76.4" fill="#888" opacity="0.04" filter="url(#bl3)"/>
<rect x="86.9" y="293.6" width="15.0" height="2.0" rx="1.0" fill="#999" opacity="0.26" filter="url(#bl1)"/>
<rect x="107.5" y="293.6" width="15.0" height="2.0" rx="1.0" fill="#999" opacity="0.26" filter="url(#bl1)"/>
<rect x="129.1" y="293.6" width="15.0" height="2.0" rx="1.0" fill="#999" opacity="0.26" filter="url(#bl1)"/>
<rect x="150.0" y="302.0" width="15.0" height="2.0" rx="1.0" fill="#999" opacity="0.26" filter="url(#bl1)"/>
<rect x="170.5" y="300.0" width="15.0" height="2.0" rx="1.0" fill="#999" opacity="0.26" filter="url(#bl1)"/>
<rect x="170.5" y="289.5" width="15.0" height="2.0" rx="1.0" fill="#999" opacity="0.26" filter="url(#bl1)"/>
<rect x="192.2" y="300.0" width="15.0" height="2.0" rx="1.0" fill="#999" opacity="0.26" filter="url(#bl1)"/>
<rect x="213.8" y="300.0" width="15.0" height="2.0" rx="1.0" fill="#999" opacity="0.26" filter="url(#bl1)"/>
<rect x="213.8" y="305.3" width="15.0" height="2.0" rx="1.0" fill="#999" opacity="0.26" filter="url(#bl1)"/>
<rect x="192.2" y="289.5" width="15.0" height="2.0" rx="1.0" fill="#999" opacity="0.26" filter="url(#bl1)"/>
<rect x="213.8" y="289.5" width="15.0" height="2.0" rx="1.0" fill="#999" opacity="0.26" filter="url(#bl1)"/>
<rect x="256.4" y="290.0" width="15.0" height="2.0" rx="1.0" fill="#999" opacity="0.26" filter="url(#bl1)"/>
<rect x="277.3" y="290.0" width="15.0" height="2.0" rx="1.0" fill="#999" opacity="0.26" filter="url(#bl1)"/>
<rect x="297.8" y="290.0" width="15.0" height="2.0" rx="1.0" fill="#999" opacity="0.26" filter="url(#bl1)"/>
<rect x="108.0" y="227.2" width="14.0" height="1.5" rx="0.8" fill="#999" opacity="0.08" filter="url(#bl1)"/>
<rect x="108.0" y="231.2" width="14.0" height="1.5" rx="0.8" fill="#999" opacity="0.08" filter="url(#bl1)"/>
<rect x="108.0" y="235.2" width="14.0" height="1.5" rx="0.8" fill="#999" opacity="0.08" filter="url(#bl1)"/>
<rect x="192.7" y="229.2" width="14.0" height="1.5" rx="0.8" fill="#999" opacity="0.08" filter="url(#bl1)"/>
<rect x="192.7" y="235.2" width="14.0" height="1.5" rx="0.8" fill="#999" opacity="0.08" filter="url(#bl1)"/>
<rect x="214.3" y="231.2" width="14.0" height="1.5" rx="0.8" fill="#999" opacity="0.08" filter="url(#bl1)"/>
<rect x="192.7" y="223.2" width="14.0" height="1.5" rx="0.8" fill="#999" opacity="0.08" filter="url(#bl1)"/>
<rect x="214.3" y="225.2" width="14.0" height="1.5" rx="0.8" fill="#999" opacity="0.08" filter="url(#bl1)"/>
<rect x="192.7" y="241.2" width="14.0" height="1.5" rx="0.8" fill="#999" opacity="0.08" filter="url(#bl1)"/>
<rect x="192.7" y="247.2" width="14.0" height="1.5" rx="0.8" fill="#999" opacity="0.08" filter="url(#bl1)"/>
<rect x="348.8" y="281.9" width="15.0" height="2.2" rx="1.1" fill="#999" opacity="0.15" filter="url(#bl1)"/>
<rect x="368.9" y="281.9" width="15.0" height="2.2" rx="1.1" fill="#999" opacity="0.15" filter="url(#bl1)"/>
<rect x="388.5" y="281.9" width="15.0" height="2.2" rx="1.1" fill="#999" opacity="0.15" filter="url(#bl1)"/>
<rect x="428.8" y="280.9" width="15.0" height="2.2" rx="1.1" fill="#999" opacity="0.15" filter="url(#bl1)"/>
<rect x="447.7" y="280.9" width="15.0" height="2.2" rx="1.1" fill="#999" opacity="0.15" filter="url(#bl1)"/>
<rect x="467.5" y="280.9" width="15.0" height="2.2" rx="1.1" fill="#999" opacity="0.15" filter="url(#bl1)"/>
<rect x="508.4" y="280.9" width="15.0" height="2.2" rx="1.1" fill="#999" opacity="0.15" filter="url(#bl1)"/>
<rect x="527.3" y="280.9" width="15.0" height="2.2" rx="1.1" fill="#999" opacity="0.15" filter="url(#bl1)"/>
<rect x="545.8" y="280.9" width="15.0" height="2.2" rx="1.1" fill="#999" opacity="0.15" filter="url(#bl1)"/>
<rect x="328.3" y="243.9" width="15.0" height="2.2" rx="1.1" fill="#999" opacity="0.15" filter="url(#bl1)"/>
<rect x="348.8" y="243.9" width="15.0" height="2.2" rx="1.1" fill="#999" opacity="0.15" filter="url(#bl1)"/>
<rect x="368.9" y="243.9" width="15.0" height="2.2" rx="1.1" fill="#999" opacity="0.15" filter="url(#bl1)"/>
<rect x="388.5" y="243.9" width="15.0" height="2.2" rx="1.1" fill="#999" opacity="0.15" filter="url(#bl1)"/>
<rect x="597.9" y="244.9" width="15.0" height="2.2" rx="1.1" fill="#999" opacity="0.15" filter="url(#bl1)"/>
<rect x="618.0" y="244.9" width="15.0" height="2.2" rx="1.1" fill="#999" opacity="0.15" filter="url(#bl1)"/>
<rect x="638.1" y="244.9" width="15.0" height="2.2" rx="1.1" fill="#999" opacity="0.15" filter="url(#bl1)"/>
<rect x="597.9" y="289.9" width="15.0" height="2.2" rx="1.1" fill="#999" opacity="0.15" filter="url(#bl1)"/>
<rect x="618.0" y="289.9" width="15.0" height="2.2" rx="1.1" fill="#999" opacity="0.15" filter="url(#bl1)"/>
<rect x="638.1" y="289.9" width="15.0" height="2.2" rx="1.1" fill="#999" opacity="0.15" filter="url(#bl1)"/>
<rect x="368.4" y="308.0" width="16.0" height="4.0" rx="2.0" fill="#777" opacity="0.28" filter="url(#bl2)"/>
<rect x="388.0" y="307.0" width="16.0" height="4.0" rx="2.0" fill="#777" opacity="0.28" filter="url(#bl2)"/>
<rect x="447.2" y="305.5" width="16.0" height="4.0" rx="2.0" fill="#777" opacity="0.28" filter="url(#bl2)"/>
<rect x="467.0" y="304.5" width="16.0" height="4.0" rx="2.0" fill="#777" opacity="0.28" filter="url(#bl2)"/>
<rect x="526.8" y="305.5" width="16.0" height="4.0" rx="2.0" fill="#777" opacity="0.28" filter="url(#bl2)"/>
<rect x="545.3" y="304.5" width="16.0" height="4.0" rx="2.0" fill="#777" opacity="0.28" filter="url(#bl2)"/>
<rect x="617.5" y="311.6" width="16.0" height="4.0" rx="2.0" fill="#777" opacity="0.28" filter="url(#bl2)"/>
<rect x="637.6" y="310.5" width="16.0" height="4.0" rx="2.0" fill="#777" opacity="0.28" filter="url(#bl2)"/>
<path d="M192 316.6 Q199.7 320.5 207.5 316.6 L207.5 319 Q199.7 322.2 192 319 Z" fill="#3a3a3a" filter="url(#bl1)"/>
<rect x="212.3" y="314.1" width="18.0" height="5.2" rx="2.6" fill="#4a4a4a" opacity="0.9" filter="url(#bl1)"/>
<defs><linearGradient id="bg" x1="0" y1="0" x2="0" y2="1"><stop offset="0" stop-color="#3a3a3a"/><stop offset="0.6" stop-color="#1e1e1e"/><stop offset="1" stop-color="#262626"/></linearGradient>
<linearGradient id="bg2" x1="0" y1="0" x2="0" y2="1"><stop offset="0" stop-color="#7a7a7a"/><stop offset="0.45" stop-color="#3a3a3a"/><stop offset="0.8" stop-color="#222"/><stop offset="1" stop-color="#2a2a2a"/></linearGradient></defs>
<rect x="64.2" y="336.3" width="18.5" height="8.0" rx="3.5" fill="url(#bg)" filter="url(#bl1)"/>
<rect x="85.4" y="335.1" width="18.0" height="7.8" rx="3.4" fill="url(#bg)" filter="url(#bl1)"/>
<rect x="106.0" y="335.1" width="18.0" height="7.8" rx="3.4" fill="url(#bg)" filter="url(#bl1)"/>
<rect x="127.6" y="334.4" width="18.0" height="7.6" rx="3.3" fill="url(#bg)" filter="url(#bl1)"/>
<rect x="148.5" y="331.9" width="18.0" height="7.8" rx="3.4" fill="url(#bg)" filter="url(#bl1)"/>
<rect x="169.0" y="330.3" width="18.0" height="7.4" rx="3.2" fill="url(#bg)" filter="url(#bl1)"/>
<rect x="189.9" y="327.3" width="19.5" height="10.1" rx="4.4" fill="url(#bg2)" filter="url(#bl1)"/>
<rect x="211.6" y="327.1" width="19.5" height="9.8" rx="4.3" fill="url(#bg2)" filter="url(#bl1)"/>
<rect x="234.4" y="330.1" width="18.0" height="7.8" rx="3.4" fill="url(#bg)" filter="url(#bl1)"/>
<rect x="254.9" y="329.3" width="18.0" height="7.8" rx="3.4" fill="url(#bg)" filter="url(#bl1)"/>
<rect x="275.8" y="326.9" width="18.0" height="8.3" rx="3.6" fill="url(#bg)" filter="url(#bl1)"/>
<rect x="296.3" y="324.9" width="18.0" height="8.8" rx="3.8" fill="url(#bg)" filter="url(#bl1)"/>
<rect x="326.5" y="321.2" width="18.6" height="8.8" rx="3.8" fill="url(#bg)" filter="url(#bl1)"/>
<rect x="348.1" y="320.2" width="16.5" height="8.8" rx="3.8" fill="url(#bg)" filter="url(#bl1)"/>
<rect x="367.1" y="319.0" width="18.6" height="10.8" rx="4.7" fill="url(#bg2)" filter="url(#bl1)"/>
<rect x="387.5" y="317.9" width="17.0" height="10.8" rx="4.7" fill="url(#bg2)" filter="url(#bl1)"/>
<rect x="408.1" y="319.7" width="17.0" height="8.3" rx="3.6" fill="url(#bg)" filter="url(#bl1)"/>
<rect x="427.8" y="318.5" width="17.0" height="8.3" rx="3.6" fill="url(#bg)" filter="url(#bl1)"/>
<rect x="446.2" y="316.8" width="18.0" height="9.3" rx="4.0" fill="url(#bg)" filter="url(#bl1)"/>
<rect x="466.0" y="316.0" width="18.0" height="9.3" rx="4.0" fill="url(#bg)" filter="url(#bl1)"/>
<rect x="487.3" y="317.2" width="17.0" height="8.3" rx="3.6" fill="url(#bg)" filter="url(#bl1)"/>
<rect x="507.4" y="316.9" width="17.0" height="8.3" rx="3.6" fill="url(#bg)" filter="url(#bl1)"/>
<rect x="525.8" y="316.0" width="18.0" height="9.3" rx="4.0" fill="url(#bg)" filter="url(#bl1)"/>
<rect x="544.5" y="316.4" width="17.5" height="9.3" rx="4.0" fill="url(#bg)" filter="url(#bl1)"/>
<rect x="576" y="326.7" width="18" height="5" rx="2.5" fill="#0a0a0a" filter="url(#bl1)" transform="rotate(-9 585 329.2)"/>
<rect x="597.1" y="323.4" width="16.6" height="5.0" rx="2.5" fill="#0a0a0a" filter="url(#bl1)"/>
<rect x="617.1" y="322.7" width="16.7" height="4.8" rx="2.4" fill="#0a0a0a" filter="url(#bl1)"/>
<rect x="637.0" y="322.1" width="17.2" height="5.0" rx="2.5" fill="#0a0a0a" filter="url(#bl1)"/>
<g fill="none" stroke="#b8b8b8" stroke-width="0.8"><path d="M274.2 208.6 C275 212 278 215 281 216.5 C283 220 285 226 289 226 C297 226 313 214 316.7 208.6" fill="#dcdcdc" fill-opacity="0.5"/><path d="M281.6 208.6 C280 212 281 216 284 217 C286 219 287 220 288 219.6"/><path d="M291.3 208.6 C290 212 290 216 292 217.5 C293 219 294.5 220 296 219 L307 208.6"/></g>
<path d="M57.7 210.2 H55.1 V314.9 H57.7" stroke="#222" stroke-width="1" fill="none"/>
<line x1="53.0" y1="262.0" x2="55.1" y2="262.0" stroke="#222" stroke-width="1"/>
<text x="2.4" y="268.6" font-size="9.95" fill="#000" text-anchor="start">Parkin-Ub<tspan font-size="6.5" dy="2">n</tspan></text>
<text x="58.3" y="325.8" font-size="9.95" fill="#000" text-anchor="end">Parkin-Ub<tspan font-size="6.5" dy="2">1</tspan><tspan dy="-2"> -</tspan></text>
<text x="58.3" y="342.0" font-size="9.95" fill="#000" text-anchor="end">Parkin -</text>
<text x="659.4" y="250.0" font-size="9.95" fill="#000" text-anchor="start">-250</text>
<text x="659.4" y="274.1" font-size="9.95" fill="#000" text-anchor="start">-150</text>
<text x="659.4" y="303.5" font-size="9.95" fill="#000" text-anchor="start">-100</text>
<text x="659.4" y="324.1" font-size="9.95" fill="#000" text-anchor="start">-75</text>
<text x="2.4" y="363.3" font-size="9.95" fill="#000" text-anchor="start">% Parkin-Ub<tspan font-size="6.5" dy="2">1</tspan></text>
<text x="71.5" y="363.3" font-size="9.95" fill="#000" text-anchor="middle">0</text>
<text x="93.0" y="363.3" font-size="9.95" fill="#000" text-anchor="middle">0</text>
<text x="114.6" y="363.3" font-size="9.95" fill="#000" text-anchor="middle">1</text>
<text x="134.7" y="363.3" font-size="9.95" fill="#000" text-anchor="middle">1</text>
<text x="156.6" y="363.3" font-size="9.95" fill="#000" text-anchor="middle">0</text>
<text x="177.4" y="363.3" font-size="9.95" fill="#000" text-anchor="middle">0</text>
<text x="199.9" y="363.3" font-size="9.95" fill="#000" text-anchor="middle">17</text>
<text x="222.0" y="363.3" font-size="9.95" fill="#000" text-anchor="middle">24</text>
<text x="244.5" y="363.3" font-size="9.95" fill="#000" text-anchor="middle">0</text>
<text x="265.3" y="363.3" font-size="9.95" fill="#000" text-anchor="middle">0</text>
<text x="282.7" y="363.3" font-size="9.95" fill="#000" text-anchor="middle">1</text>
<text x="304.4" y="363.3" font-size="9.95" fill="#000" text-anchor="middle">3</text>
<text x="335.9" y="363.3" font-size="9.95" fill="#000" text-anchor="middle">0</text>
<text x="356.0" y="363.3" font-size="9.95" fill="#000" text-anchor="middle">0</text>
<text x="375.3" y="363.3" font-size="9.95" fill="#000" text-anchor="middle">2</text>
<text x="394.2" y="363.3" font-size="9.95" fill="#000" text-anchor="middle">3</text>
<text x="415.8" y="363.3" font-size="9.95" fill="#000" text-anchor="middle">0</text>
<text x="434.3" y="363.3" font-size="9.95" fill="#000" text-anchor="middle">0</text>
<text x="452.4" y="363.3" font-size="9.95" fill="#000" text-anchor="middle">4</text>
<text x="472.9" y="363.3" font-size="9.95" fill="#000" text-anchor="middle">5</text>
<text x="495.4" y="363.3" font-size="9.95" fill="#000" text-anchor="middle">0</text>
<text x="515.1" y="363.3" font-size="9.95" fill="#000" text-anchor="middle">0</text>
<text x="533.2" y="363.3" font-size="9.95" fill="#000" text-anchor="middle">6</text>
<text x="553.7" y="363.3" font-size="9.95" fill="#000" text-anchor="middle">7</text>
<text x="583.3" y="363.3" font-size="9.95" fill="#000" text-anchor="middle">0</text>
<text x="604.2" y="363.3" font-size="9.95" fill="#000" text-anchor="middle">0</text>
<text x="621.9" y="363.3" font-size="9.95" fill="#000" text-anchor="middle">4</text>
<text x="644.4" y="363.3" font-size="9.95" fill="#000" text-anchor="middle">6</text>
<text x="-0.9" y="403.5" font-size="15" font-weight="bold" fill="#000" text-anchor="start">d</text>
<line x1="46.4" y1="409.2" x2="46.4" y2="497.1" stroke="#3a3a3a" stroke-width="0.9"/>
<line x1="43.4" y1="497.1" x2="46.4" y2="497.1" stroke="#3a3a3a" stroke-width="0.9"/>
<text x="37.9" y="500.5" font-size="9.95" fill="#000" text-anchor="end">0</text>
<line x1="43.4" y1="482.5" x2="46.4" y2="482.5" stroke="#3a3a3a" stroke-width="0.9"/>
<text x="37.9" y="485.9" font-size="9.95" fill="#000" text-anchor="end">5</text>
<line x1="43.4" y1="467.8" x2="46.4" y2="467.8" stroke="#3a3a3a" stroke-width="0.9"/>
<text x="37.9" y="471.2" font-size="9.95" fill="#000" text-anchor="end">10</text>
<line x1="43.4" y1="453.1" x2="46.4" y2="453.1" stroke="#3a3a3a" stroke-width="0.9"/>
<text x="37.9" y="456.5" font-size="9.95" fill="#000" text-anchor="end">15</text>
<line x1="43.4" y1="438.5" x2="46.4" y2="438.5" stroke="#3a3a3a" stroke-width="0.9"/>
<text x="37.9" y="441.9" font-size="9.95" fill="#000" text-anchor="end">20</text>
<line x1="43.4" y1="423.9" x2="46.4" y2="423.9" stroke="#3a3a3a" stroke-width="0.9"/>
<text x="37.9" y="427.2" font-size="9.95" fill="#000" text-anchor="end">25</text>
<line x1="43.4" y1="409.2" x2="46.4" y2="409.2" stroke="#3a3a3a" stroke-width="0.9"/>
<text x="37.9" y="412.6" font-size="9.95" fill="#000" text-anchor="end">30</text>
<line x1="46.4" y1="497.1" x2="169.3" y2="497.1" stroke="#555" stroke-width="0.9"/>
<line x1="107.7" y1="497.1" x2="107.7" y2="500.1" stroke="#555" stroke-width="0.9"/>
<line x1="169.3" y1="497.1" x2="169.3" y2="500.1" stroke="#555" stroke-width="0.9"/>
<text x="46.4" y="512.0" font-size="9.95" fill="#000" text-anchor="middle">0</text>
<text x="107.7" y="512.0" font-size="9.95" fill="#000" text-anchor="middle">30</text>
<text x="169.3" y="512.0" font-size="9.95" fill="#000" text-anchor="middle">60</text>
<text x="107.7" y="525.2" font-size="9.95" fill="#000" text-anchor="middle">Time (minutes)</text>
<text x="0.0" y="0.0" font-size="9.95" fill="#000" text-anchor="middle" transform="translate(13.100000000000001,456) rotate(-90)">% Monoubiqutinated</text>
<text x="0.0" y="0.0" font-size="9.95" fill="#000" text-anchor="middle" transform="translate(23.799999999999997,456) rotate(-90)">parkin</text>
<polyline points="46.4,497.1 107.7,443.5 169.3,426.2" fill="none" stroke="#7f7f7f" stroke-width="1"/>
<circle cx="46.4" cy="497.1" r="1.5" fill="#7f7f7f"/>
<line x1="107.7" y1="451.4" x2="107.7" y2="435.6" stroke="#7f7f7f" stroke-width="0.9"/>
<line x1="106.2" y1="451.4" x2="109.2" y2="451.4" stroke="#7f7f7f" stroke-width="0.9"/>
<line x1="106.2" y1="435.6" x2="109.2" y2="435.6" stroke="#7f7f7f" stroke-width="0.9"/>
<circle cx="107.7" cy="443.5" r="1.5" fill="#7f7f7f"/>
<line x1="169.3" y1="432.6" x2="169.3" y2="419.7" stroke="#7f7f7f" stroke-width="0.9"/>
<line x1="167.8" y1="432.6" x2="170.8" y2="432.6" stroke="#7f7f7f" stroke-width="0.9"/>
<line x1="167.8" y1="419.7" x2="170.8" y2="419.7" stroke="#7f7f7f" stroke-width="0.9"/>
<circle cx="169.3" cy="426.2" r="1.5" fill="#7f7f7f"/>
<circle cx="107.7" cy="427.7" r="1.5" fill="#7f7f7f"/>
<circle cx="107.7" cy="446.7" r="1.5" fill="#7f7f7f"/>
<circle cx="107.7" cy="454.6" r="1.5" fill="#7f7f7f"/>
<circle cx="169.3" cy="413.6" r="1.5" fill="#7f7f7f"/>
<circle cx="169.3" cy="435.9" r="1.5" fill="#7f7f7f"/>
<polyline points="46.4,497.1 107.7,495.3 169.3,493.9" fill="none" stroke="#000" stroke-width="1"/>
<circle cx="46.4" cy="497.1" r="1.5" fill="#000"/>
<line x1="107.7" y1="496.5" x2="107.7" y2="494.2" stroke="#000" stroke-width="0.9"/>
<line x1="106.2" y1="496.5" x2="109.2" y2="496.5" stroke="#000" stroke-width="0.9"/>
<line x1="106.2" y1="494.2" x2="109.2" y2="494.2" stroke="#000" stroke-width="0.9"/>
<circle cx="107.7" cy="495.3" r="1.5" fill="#000"/>
<line x1="169.3" y1="495.6" x2="169.3" y2="492.1" stroke="#000" stroke-width="0.9"/>
<line x1="167.8" y1="495.6" x2="170.8" y2="495.6" stroke="#000" stroke-width="0.9"/>
<line x1="167.8" y1="492.1" x2="170.8" y2="492.1" stroke="#000" stroke-width="0.9"/>
<circle cx="169.3" cy="493.9" r="1.5" fill="#000"/>
<circle cx="107.7" cy="496.5" r="1.5" fill="#000"/>
<circle cx="169.3" cy="496.5" r="1.5" fill="#000"/>
<circle cx="169.3" cy="492.1" r="1.5" fill="#000"/>
<polyline points="46.4,497.1 107.7,493.0 169.3,488.3" fill="none" stroke="#7030A0" stroke-width="1"/>
<circle cx="46.4" cy="497.1" r="1.5" fill="#7030A0"/>
<line x1="107.7" y1="494.5" x2="107.7" y2="491.5" stroke="#7030A0" stroke-width="0.9"/>
<line x1="106.2" y1="494.5" x2="109.2" y2="494.5" stroke="#7030A0" stroke-width="0.9"/>
<line x1="106.2" y1="491.5" x2="109.2" y2="491.5" stroke="#7030A0" stroke-width="0.9"/>
<circle cx="107.7" cy="493.0" r="1.5" fill="#7030A0"/>
<line x1="169.3" y1="489.5" x2="169.3" y2="487.1" stroke="#7030A0" stroke-width="0.9"/>
<line x1="167.8" y1="489.5" x2="170.8" y2="489.5" stroke="#7030A0" stroke-width="0.9"/>
<line x1="167.8" y1="487.1" x2="170.8" y2="487.1" stroke="#7030A0" stroke-width="0.9"/>
<circle cx="169.3" cy="488.3" r="1.5" fill="#7030A0"/>
<circle cx="107.7" cy="494.2" r="1.5" fill="#7030A0"/>
<circle cx="169.3" cy="487.4" r="1.5" fill="#7030A0"/>
<polyline points="46.4,497.1 107.7,487.7 169.3,487.1" fill="none" stroke="#ED7D31" stroke-width="1"/>
<circle cx="46.4" cy="497.1" r="1.5" fill="#ED7D31"/>
<line x1="107.7" y1="492.4" x2="107.7" y2="483.0" stroke="#ED7D31" stroke-width="0.9"/>
<line x1="106.2" y1="492.4" x2="109.2" y2="492.4" stroke="#ED7D31" stroke-width="0.9"/>
<line x1="106.2" y1="483.0" x2="109.2" y2="483.0" stroke="#ED7D31" stroke-width="0.9"/>
<circle cx="107.7" cy="487.7" r="1.5" fill="#ED7D31"/>
<line x1="169.3" y1="488.3" x2="169.3" y2="486.0" stroke="#ED7D31" stroke-width="0.9"/>
<line x1="167.8" y1="488.3" x2="170.8" y2="488.3" stroke="#ED7D31" stroke-width="0.9"/>
<line x1="167.8" y1="486.0" x2="170.8" y2="486.0" stroke="#ED7D31" stroke-width="0.9"/>
<circle cx="169.3" cy="487.1" r="1.5" fill="#ED7D31"/>
<circle cx="107.7" cy="482.7" r="1.5" fill="#ED7D31"/>
<circle cx="107.7" cy="494.2" r="1.5" fill="#ED7D31"/>
<circle cx="169.3" cy="486.0" r="1.5" fill="#ED7D31"/>
<text x="176.3" y="428.7" font-size="9.95" font-weight="bold" fill="#7f7f7f" text-anchor="start">W403A</text>
<text x="176.3" y="481.9" font-size="9.95" font-weight="bold" fill="#ED7D31" text-anchor="start">P37L</text>
<text x="176.3" y="491.2" font-size="9.95" font-weight="bold" fill="#7030A0" text-anchor="start">V224A</text>
<text x="176.3" y="500.9" font-size="9.95" font-weight="bold" fill="#000" text-anchor="start">WT</text>
<line x1="279.0" y1="409.2" x2="279.0" y2="497.1" stroke="#3a3a3a" stroke-width="0.9"/>
<line x1="276.0" y1="497.1" x2="279.0" y2="497.1" stroke="#3a3a3a" stroke-width="0.9"/>
<text x="270.5" y="500.5" font-size="9.95" fill="#000" text-anchor="end">0</text>
<line x1="276.0" y1="482.5" x2="279.0" y2="482.5" stroke="#3a3a3a" stroke-width="0.9"/>
<text x="270.5" y="485.9" font-size="9.95" fill="#000" text-anchor="end">5</text>
<line x1="276.0" y1="467.8" x2="279.0" y2="467.8" stroke="#3a3a3a" stroke-width="0.9"/>
<text x="270.5" y="471.2" font-size="9.95" fill="#000" text-anchor="end">10</text>
<line x1="276.0" y1="453.1" x2="279.0" y2="453.1" stroke="#3a3a3a" stroke-width="0.9"/>
<text x="270.5" y="456.5" font-size="9.95" fill="#000" text-anchor="end">15</text>
<line x1="276.0" y1="438.5" x2="279.0" y2="438.5" stroke="#3a3a3a" stroke-width="0.9"/>
<text x="270.5" y="441.9" font-size="9.95" fill="#000" text-anchor="end">20</text>
<line x1="276.0" y1="423.9" x2="279.0" y2="423.9" stroke="#3a3a3a" stroke-width="0.9"/>
<text x="270.5" y="427.2" font-size="9.95" fill="#000" text-anchor="end">25</text>
<line x1="276.0" y1="409.2" x2="279.0" y2="409.2" stroke="#3a3a3a" stroke-width="0.9"/>
<text x="270.5" y="412.6" font-size="9.95" fill="#000" text-anchor="end">30</text>
<line x1="279.0" y1="497.1" x2="403.1" y2="497.1" stroke="#555" stroke-width="0.9"/>
<line x1="341.8" y1="497.1" x2="341.8" y2="500.1" stroke="#555" stroke-width="0.9"/>
<line x1="403.1" y1="497.1" x2="403.1" y2="500.1" stroke="#555" stroke-width="0.9"/>
<text x="279.0" y="512.0" font-size="9.95" fill="#000" text-anchor="middle">0</text>
<text x="341.8" y="512.0" font-size="9.95" fill="#000" text-anchor="middle">30</text>
<text x="403.1" y="512.0" font-size="9.95" fill="#000" text-anchor="middle">60</text>
<text x="341.8" y="525.2" font-size="9.95" fill="#000" text-anchor="middle">Time (minutes)</text>
<text x="0.0" y="0.0" font-size="9.95" fill="#000" text-anchor="middle" transform="translate(245.7,456) rotate(-90)">% Monoubiqutinated</text>
<text x="0.0" y="0.0" font-size="9.95" fill="#000" text-anchor="middle" transform="translate(256.4,456) rotate(-90)">parkin</text>
<polyline points="279.0,497.1 341.8,476.6 403.1,474.2" fill="none" stroke="#70AD47" stroke-width="1"/>
<circle cx="279.0" cy="497.1" r="1.5" fill="#70AD47"/>
<line x1="341.8" y1="478.9" x2="341.8" y2="474.2" stroke="#70AD47" stroke-width="0.9"/>
<line x1="340.3" y1="478.9" x2="343.3" y2="478.9" stroke="#70AD47" stroke-width="0.9"/>
<line x1="340.3" y1="474.2" x2="343.3" y2="474.2" stroke="#70AD47" stroke-width="0.9"/>
<circle cx="341.8" cy="476.6" r="1.5" fill="#70AD47"/>
<line x1="403.1" y1="477.8" x2="403.1" y2="470.7" stroke="#70AD47" stroke-width="0.9"/>
<line x1="401.6" y1="477.8" x2="404.6" y2="477.8" stroke="#70AD47" stroke-width="0.9"/>
<line x1="401.6" y1="470.7" x2="404.6" y2="470.7" stroke="#70AD47" stroke-width="0.9"/>
<circle cx="403.1" cy="474.2" r="1.5" fill="#70AD47"/>
<circle cx="341.8" cy="472.5" r="1.5" fill="#70AD47"/>
<circle cx="341.8" cy="479.5" r="1.5" fill="#70AD47"/>
<circle cx="403.1" cy="467.8" r="1.5" fill="#70AD47"/>
<circle cx="403.1" cy="476.0" r="1.5" fill="#70AD47"/>
<polyline points="279.0,497.1 341.8,483.9 403.1,478.1" fill="none" stroke="#FF0000" stroke-width="1"/>
<circle cx="279.0" cy="497.1" r="1.5" fill="#FF0000"/>
<line x1="341.8" y1="486.6" x2="341.8" y2="481.3" stroke="#FF0000" stroke-width="0.9"/>
<line x1="340.3" y1="486.6" x2="343.3" y2="486.6" stroke="#FF0000" stroke-width="0.9"/>
<line x1="340.3" y1="481.3" x2="343.3" y2="481.3" stroke="#FF0000" stroke-width="0.9"/>
<circle cx="341.8" cy="483.9" r="1.5" fill="#FF0000"/>
<line x1="403.1" y1="481.0" x2="403.1" y2="475.1" stroke="#FF0000" stroke-width="0.9"/>
<line x1="401.6" y1="481.0" x2="404.6" y2="481.0" stroke="#FF0000" stroke-width="0.9"/>
<line x1="401.6" y1="475.1" x2="404.6" y2="475.1" stroke="#FF0000" stroke-width="0.9"/>
<circle cx="403.1" cy="478.1" r="1.5" fill="#FF0000"/>
<circle cx="341.8" cy="480.7" r="1.5" fill="#FF0000"/>
<circle cx="341.8" cy="486.8" r="1.5" fill="#FF0000"/>
<circle cx="403.1" cy="473.1" r="1.5" fill="#FF0000"/>
<circle cx="403.1" cy="482.7" r="1.5" fill="#FF0000"/>
<polyline points="279.0,497.1 341.8,487.1 403.1,479.5" fill="none" stroke="#2F55A0" stroke-width="1"/>
<circle cx="279.0" cy="497.1" r="1.5" fill="#2F55A0"/>
<line x1="341.8" y1="488.6" x2="341.8" y2="485.7" stroke="#2F55A0" stroke-width="0.9"/>
<line x1="340.3" y1="488.6" x2="343.3" y2="488.6" stroke="#2F55A0" stroke-width="0.9"/>
<line x1="340.3" y1="485.7" x2="343.3" y2="485.7" stroke="#2F55A0" stroke-width="0.9"/>
<circle cx="341.8" cy="487.1" r="1.5" fill="#2F55A0"/>
<line x1="403.1" y1="481.0" x2="403.1" y2="478.1" stroke="#2F55A0" stroke-width="0.9"/>
<line x1="401.6" y1="481.0" x2="404.6" y2="481.0" stroke="#2F55A0" stroke-width="0.9"/>
<line x1="401.6" y1="478.1" x2="404.6" y2="478.1" stroke="#2F55A0" stroke-width="0.9"/>
<circle cx="403.1" cy="479.5" r="1.5" fill="#2F55A0"/>
<circle cx="341.8" cy="488.9" r="1.5" fill="#2F55A0"/>
<circle cx="341.8" cy="485.4" r="1.5" fill="#2F55A0"/>
<circle cx="403.1" cy="477.8" r="1.5" fill="#2F55A0"/>
<text x="409.7" y="470.8" font-size="9.95" font-weight="bold" fill="#70AD47" text-anchor="start">R256C</text>
<text x="409.7" y="480.2" font-size="9.95" font-weight="bold" fill="#FF0000" text-anchor="start">R234Q</text>
<text x="409.7" y="489.0" font-size="9.95" font-weight="bold" fill="#2F55A0" text-anchor="start">M458L</text>
<text x="458.8" y="403.6" font-size="15" font-weight="bold" fill="#000" text-anchor="start">e</text>
<line x1="516.5" y1="406.3" x2="516.5" y2="495.6" stroke="#3a3a3a" stroke-width="0.9"/>
<line x1="513.5" y1="495.6" x2="516.5" y2="495.6" stroke="#3a3a3a" stroke-width="0.9"/>
<text x="508.5" y="498.7" font-size="9.95" fill="#000" text-anchor="end">0</text>
<line x1="513.5" y1="477.7" x2="516.5" y2="477.7" stroke="#3a3a3a" stroke-width="0.9"/>
<text x="508.5" y="480.8" font-size="9.95" fill="#000" text-anchor="end">5</text>
<line x1="513.5" y1="459.9" x2="516.5" y2="459.9" stroke="#3a3a3a" stroke-width="0.9"/>
<text x="508.5" y="463.0" font-size="9.95" fill="#000" text-anchor="end">10</text>
<line x1="513.5" y1="442.0" x2="516.5" y2="442.0" stroke="#3a3a3a" stroke-width="0.9"/>
<text x="508.5" y="445.1" font-size="9.95" fill="#000" text-anchor="end">15</text>
<line x1="513.5" y1="424.2" x2="516.5" y2="424.2" stroke="#3a3a3a" stroke-width="0.9"/>
<text x="508.5" y="427.3" font-size="9.95" fill="#000" text-anchor="end">20</text>
<line x1="513.5" y1="406.3" x2="516.5" y2="406.3" stroke="#3a3a3a" stroke-width="0.9"/>
<text x="508.5" y="409.4" font-size="9.95" fill="#000" text-anchor="end">25</text>
<line x1="516.5" y1="495.6" x2="685.0" y2="495.6" stroke="#555" stroke-width="0.9"/>
<text x="0.0" y="0.0" font-size="10.4" fill="#000" text-anchor="middle" transform="translate(479.8,453.6) rotate(-90)">%Monoubiquitinated</text>
<text x="0.0" y="0.0" font-size="10.4" fill="#000" text-anchor="middle" transform="translate(491.6,453.2) rotate(-90)">parkin at 30 min</text>
<rect x="524.5" y="493.1" width="7.6" height="2.5" fill="#fff" stroke="#000" stroke-width="1.3"/>
<line x1="528.3" y1="494.5" x2="528.3" y2="491.7" stroke="#000" stroke-width="0.9"/>
<line x1="526.8" y1="491.7" x2="529.8" y2="491.7" stroke="#000" stroke-width="0.9"/>
<circle cx="528.3" cy="494.5" r="1.2" fill="#000"/>
<circle cx="528.3" cy="492.0" r="1.2" fill="#000"/>
<text x="0.0" y="0.0" font-size="9.95" font-weight="bold" fill="#000" text-anchor="end" transform="translate(532.5,502.6) rotate(-45)">WT</text>
<rect x="548.2" y="484.2" width="7.6" height="11.4" fill="#fff" stroke="#ED7D31" stroke-width="1.3"/>
<line x1="552.0" y1="489.9" x2="552.0" y2="478.5" stroke="#ED7D31" stroke-width="0.9"/>
<line x1="550.5" y1="478.5" x2="553.5" y2="478.5" stroke="#ED7D31" stroke-width="0.9"/>
<circle cx="552.0" cy="492.0" r="1.2" fill="#ED7D31"/>
<circle cx="552.0" cy="484.9" r="1.2" fill="#ED7D31"/>
<circle cx="552.0" cy="478.1" r="1.2" fill="#ED7D31"/>
<text x="0.0" y="0.0" font-size="9.95" font-weight="bold" fill="#ED7D31" text-anchor="end" transform="translate(556.2,502.6) rotate(-45)">P37L</text>
<rect x="572.5" y="490.6" width="7.6" height="5.0" fill="#fff" stroke="#7030A0" stroke-width="1.3"/>
<line x1="576.3" y1="491.7" x2="576.3" y2="489.5" stroke="#7030A0" stroke-width="0.9"/>
<line x1="574.8" y1="489.5" x2="577.8" y2="489.5" stroke="#7030A0" stroke-width="0.9"/>
<circle cx="576.3" cy="491.0" r="1.2" fill="#7030A0"/>
<text x="0.0" y="0.0" font-size="9.95" font-weight="bold" fill="#7030A0" text-anchor="end" transform="translate(580.5,502.6) rotate(-45)">V224A</text>
<rect x="596.4" y="479.9" width="7.6" height="15.7" fill="#fff" stroke="#FF0000" stroke-width="1.3"/>
<line x1="600.2" y1="483.1" x2="600.2" y2="476.7" stroke="#FF0000" stroke-width="0.9"/>
<line x1="598.7" y1="476.7" x2="601.7" y2="476.7" stroke="#FF0000" stroke-width="0.9"/>
<circle cx="600.2" cy="482.7" r="1.2" fill="#FF0000"/>
<circle cx="600.2" cy="476.0" r="1.2" fill="#FF0000"/>
<text x="0.0" y="0.0" font-size="9.95" font-weight="bold" fill="#FF0000" text-anchor="end" transform="translate(604.4000000000001,502.6) rotate(-45)">R234Q</text>
<rect x="620.5" y="471.0" width="7.6" height="24.6" fill="#fff" stroke="#70AD47" stroke-width="1.3"/>
<line x1="624.3" y1="474.9" x2="624.3" y2="467.0" stroke="#70AD47" stroke-width="0.9"/>
<line x1="622.8" y1="467.0" x2="625.8" y2="467.0" stroke="#70AD47" stroke-width="0.9"/>
<circle cx="624.3" cy="474.2" r="1.2" fill="#70AD47"/>
<circle cx="624.3" cy="466.0" r="1.2" fill="#70AD47"/>
<text x="0.0" y="0.0" font-size="9.95" font-weight="bold" fill="#70AD47" text-anchor="end" transform="translate(628.5,502.6) rotate(-45)">R256C</text>
<rect x="644.5" y="483.1" width="7.6" height="12.5" fill="#fff" stroke="#2F55A0" stroke-width="1.3"/>
<line x1="648.3" y1="484.5" x2="648.3" y2="481.7" stroke="#2F55A0" stroke-width="0.9"/>
<line x1="646.8" y1="481.7" x2="649.8" y2="481.7" stroke="#2F55A0" stroke-width="0.9"/>
<circle cx="648.3" cy="484.9" r="1.2" fill="#2F55A0"/>
<circle cx="648.3" cy="481.7" r="1.2" fill="#2F55A0"/>
<text x="0.0" y="0.0" font-size="9.95" font-weight="bold" fill="#2F55A0" text-anchor="end" transform="translate(652.5,502.6) rotate(-45)">M458L</text>
<rect x="668.7" y="429.5" width="7.6" height="66.1" fill="#fff" stroke="#8f8f8f" stroke-width="1.3"/>
<line x1="672.5" y1="439.2" x2="672.5" y2="419.9" stroke="#8f8f8f" stroke-width="0.9"/>
<line x1="671.0" y1="419.9" x2="674.0" y2="419.9" stroke="#8f8f8f" stroke-width="0.9"/>
<circle cx="672.5" cy="443.8" r="1.2" fill="#8f8f8f"/>
<circle cx="672.5" cy="433.1" r="1.2" fill="#8f8f8f"/>
<circle cx="672.5" cy="409.9" r="1.2" fill="#8f8f8f"/>
<text x="0.0" y="0.0" font-size="9.95" font-weight="bold" fill="#8f8f8f" text-anchor="end" transform="translate(676.7,502.6) rotate(-45)">W403A</text>
<path d="M528.3 423.5 V413.8 H672.5 V416.0" stroke="#222" stroke-width="1.1" fill="none"/>
<rect x="593.1" y="409.8" width="13.0" height="8.0" fill="#fff" stroke="none" stroke-width="1"/>
<text x="599.6" y="419.0" font-size="11.5" font-weight="bold" fill="#000" text-anchor="middle">*</text>
<path d="M528.3 436.0 V426.6 H648.3 V476.0" stroke="#222" stroke-width="1.1" fill="none"/>
<rect x="581.0" y="422.6" width="13.0" height="8.0" fill="#fff" stroke="none" stroke-width="1"/>
<text x="587.5" y="431.8" font-size="11.5" font-weight="bold" fill="#000" text-anchor="middle">*</text>
<path d="M528.3 447.5 V438.5 H624.3 V458.5" stroke="#222" stroke-width="1.1" fill="none"/>
<rect x="568.5" y="434.5" width="13.0" height="8.0" fill="#fff" stroke="none" stroke-width="1"/>
<text x="575.0" y="443.7" font-size="11.5" font-weight="bold" fill="#000" text-anchor="middle">*</text>
<path d="M528.3 460.0 V450.0 H600.2 V469.4" stroke="#222" stroke-width="1.1" fill="none"/>
<rect x="557.0" y="446.0" width="13.0" height="8.0" fill="#fff" stroke="none" stroke-width="1"/>
<text x="563.5" y="455.2" font-size="11.5" font-weight="bold" fill="#000" text-anchor="middle">*</text>
<path d="M528.3 472.0 V462.2 H576.3 V485.0" stroke="#222" stroke-width="1.1" fill="none"/>
<rect x="544.5" y="458.2" width="17.0" height="8.0" fill="#fff" stroke="none" stroke-width="1"/>
<text x="0.0" y="0.0" font-size="7.2" fill="#000" text-anchor="middle" transform="translate(553,464.8) scale(0.86,1)">NS</text>
<path d="M528.3 486.2 V474.2 H552.2 V476.0" stroke="#222" stroke-width="1.1" fill="none"/>
<rect x="531.0" y="470.2" width="17.0" height="8.0" fill="#fff" stroke="none" stroke-width="1"/>
<text x="0.0" y="0.0" font-size="7.2" fill="#000" text-anchor="middle" transform="translate(539.5,476.8) scale(0.86,1)">NS</text>
<rect x="530.5" y="470.0" width="4.0" height="8.0" fill="#fff" stroke="none" stroke-width="1"/>
</svg></body></html>
